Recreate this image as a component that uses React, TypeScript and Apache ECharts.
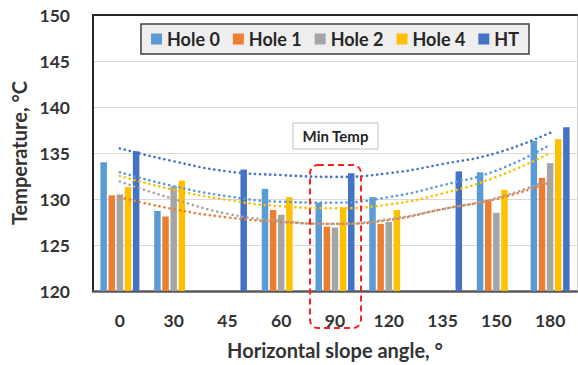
import React, { useEffect, useRef } from "react";
import * as echarts from "echarts";

const categories = ["0", "30", "45", "60", "90", "120", "135", "150", "180"];
const seriesNames = ["Hole 0", "Hole 1", "Hole 2", "Hole 4", "HT"];
const hole0 = [134.0, 128.7, null, 131.1, 129.6, 130.2, null, 132.9, 136.3];
const hole1 = [130.4, 128.1, null, 128.8, 127.0, 127.3, null, 129.9, 132.3];
const hole2 = [130.5, 131.4, null, 128.3, 126.9, 127.5, null, 128.5, 133.9];
const hole4 = [131.3, 132.0, null, 130.2, 129.1, 128.8, null, 131.0, 136.5];
const ht = [135.2, null, 133.2, null, 132.8, null, 133.0, null, 137.8];

// trendline values read at each category centre
const trendHole0 = [132.9, 131.4, 130.3, 129.7, 129.6, 130.2, 131.5, 133.1, 135.9];
const trendHole1 = [130.2, 128.9, 128.0, 127.5, 127.3, 127.7, 128.9, 130.0, 131.8];
const trendHole2 = [131.9, 130.0, 128.4, 127.6, 127.3, 127.8, 128.9, 130.1, 132.1];
const trendHole4 = [132.5, 131.0, 129.9, 129.2, 129.0, 129.4, 130.6, 132.4, 135.0];
const trendHT = [135.5, 134.1, 133.0, 132.6, 132.4, 132.8, 133.8, 135.0, 137.2];

const colors = ["#5B9BD5", "#ED7D31", "#A5A5A5", "#FFC000", "#4472C4"];
const FONT = "Lato, 'Open Sans', sans-serif";

export default function App() {
  const ref = useRef<HTMLDivElement>(null);
  useEffect(() => {
    if (!ref.current) return;
    const chart = echarts.init(ref.current, null, { renderer: "svg" });
    const barData = [hole0, hole1, hole2, hole4, ht];
    const trendData = [trendHole0, trendHole1, trendHole2, trendHole4, trendHT];
    const bars = barData.map((d, i) => ({
      name: seriesNames[i],
      type: "bar",
      data: d,
      barWidth: 6.5,
      barGap: "25%",
      itemStyle: { color: colors[i] },
    }));
    const lines = trendData.map((d, i) => ({
      name: seriesNames[i] + " trend",
      type: "line",
      data: d,
      smooth: true,
      showSymbol: false,
      silent: true,
      lineStyle: { color: colors[i], width: 2.6, type: [0.1, 5], cap: "round" },
      z: 3,
    }));
    chart.setOption({
      animation: false,
      textStyle: { fontFamily: FONT },
      grid: { left: 93, top: 15, right: 1, bottom: 74, show: false },
      legend: {
        data: seriesNames,
        left: 141,
        top: 24,
        padding: [6, 10],
        itemWidth: 11,
        itemHeight: 11,
        itemGap: 13,
        icon: "rect",
        backgroundColor: "#eeeeee",
        borderColor: "#404040",
        borderWidth: 1.5,
        textStyle: { fontSize: 18, fontWeight: "bold", color: "#262626", fontFamily: FONT },
      },
      xAxis: [
        {
          type: "category",
          data: categories,
          position: "bottom",
          axisLine: { lineStyle: { color: "#595959", width: 2.5 } },
          axisTick: { show: false },
          axisLabel: { fontSize: 17.5, fontWeight: "bold", color: "#333", margin: 20, fontFamily: FONT },
          name: "Horizontal slope angle, °",
          nameLocation: "middle",
          nameGap: 49,
          nameTextStyle: { fontSize: 20, fontWeight: "bold", color: "#333", fontFamily: FONT },
        },
        {
          type: "category",
          data: categories,
          position: "top",
          axisLine: { lineStyle: { color: "#262626", width: 2 } },
          axisTick: { show: false },
          axisLabel: { show: false },
        },
      ],
      yAxis: [
        {
          type: "value",
          min: 120,
          max: 150,
          interval: 5,
          position: "left",
          axisLine: { show: true, lineStyle: { color: "#262626", width: 2 } },
          axisTick: { show: false },
          splitLine: { lineStyle: { color: "#d9d9d9", width: 1 } },
          axisLabel: { fontSize: 17.5, fontWeight: "bold", color: "#333", margin: 23, fontFamily: FONT },
          name: "Temperature, °C",
          nameLocation: "middle",
          nameGap: 61,
          nameTextStyle: { fontSize: 20, fontWeight: "bold", color: "#333", fontFamily: FONT },
        },
        {
          type: "value",
          min: 120,
          max: 150,
          interval: 5,
          position: "right",
          axisLine: { show: true, lineStyle: { color: "#d0d0d0", width: 1 } },
          axisTick: { show: false },
          axisLabel: { show: false },
          splitLine: { show: false },
        },
      ],
      series: [...bars, ...lines],
      graphic: [
        {
          type: "rect",
          shape: { x: 293, y: 123, width: 85, height: 26 },
          style: { fill: "#ffffff", stroke: "#bfbfbf", lineWidth: 1 },
          z: 10,
        },
        {
          type: "text",
          x: 335.5,
          y: 136,
          style: {
            text: "Min Temp",
            fontSize: 15,
            fontWeight: "bold",
            fill: "#262626",
            fontFamily: FONT,
            align: "center",
            verticalAlign: "middle",
          },
          z: 11,
        },
        {
          type: "rect",
          shape: { x: 310, y: 165, width: 51, height: 163, r: 8 },
          style: { fill: "none", stroke: "#ff1f1f", lineWidth: 2, lineDash: [6, 4] },
          z: 12,
        },
      ],
    });
    return () => chart.dispose();
  }, []);
  return (
    <div
      ref={ref}
      style={{ position: "fixed", left: 0, top: 0, width: 578, height: 365, background: "#fff" }}
    />
  );
}
